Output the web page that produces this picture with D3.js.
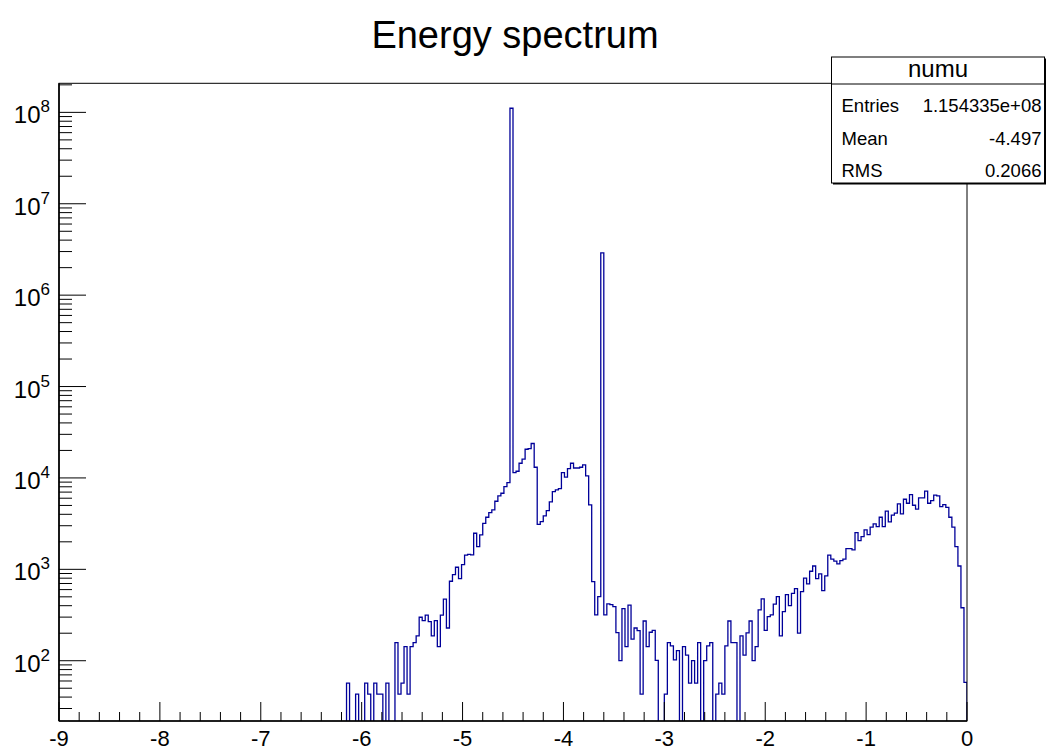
<!DOCTYPE html>
<html>
<head>
<meta charset="utf-8">
<script src="https://cdn.jsdelivr.net/npm/d3@7/dist/d3.min.js"></script>
<style>
  body { margin: 0; background: #fff; }
  text { font-family: "Liberation Sans", Arial, Helvetica, sans-serif; fill: #000; }
</style>
</head>
<body>
<div id="chart"></div>
<script>
// histogram setup
var titleText = "Energy spectrum";
var histName = "numu";
var xRange = [-9, 0];
var nBins = 300;
var firstFilledBin = 93;   // everything below this bin is empty

// bin contents (bins 93 .. 299)
var binCounts = [
  0, 0, 57, 0, 0, 43, 0, 0, 57, 43,
  0, 57, 43, 43, 0, 57, 0, 0, 158, 43,
  57, 143, 43, 143, 158, 187, 299, 275, 315, 268,
  187, 275, 143, 315, 471, 228, 741, 875, 1054, 791,
  1126, 1427, 1461, 1440, 2483, 1770, 2378, 3190, 3715, 4170,
  4466, 5558, 6353, 6800, 8040, 8890, 1.11e8, 11430, 11840, 14480,
  16030, 20600, 20900, 23800, 13090, 3100, 3327, 3839, 4385, 5458,
  7077, 7390, 7640, 11430, 10190, 12650, 14480, 12850, 12850, 13090,
  13870, 10520, 5070, 734, 317, 503, 2.9e6, 317, 418, 410,
  391, 203, 100, 371, 143, 405, 172, 228, 213, 43,
  272, 143, 205, 215, 101, 0, 0, 43, 158, 145,
  102, 129, 0, 143, 115, 57, 100, 57, 158, 0,
  100, 145, 158, 0, 43, 57, 43, 145, 272, 158,
  158, 0, 187, 115, 202, 272, 100, 143, 360, 475,
  215, 304, 318, 416, 503, 187, 344, 530, 400, 547,
  615, 200, 570, 800, 692, 953, 1088, 791, 891, 585,
  847, 1427, 1290, 1227, 1146, 1245, 1290, 1686, 1686, 1630,
  2523, 2061, 2280, 2699, 2399, 2891, 3141, 2933, 3715, 2933,
  4325, 3304, 3909, 4115, 5200, 4037, 5848, 5284, 6566, 5023,
  4548, 6040, 6040, 7160, 5284, 5650, 6470, 6350, 4855, 5107,
  4775, 3715, 2891, 1771, 1088, 380, 58
];

var xTickValues = d3.range(-9, 1);
var yTickExponents = [2, 3, 4, 5, 6, 7, 8];
var yRange = [21.9, 2.08e8];
var statNames = ["Entries", "Mean", "RMS"];
var statValues = ["1.154335e+08", "-4.497", "0.2066"];

// frame geometry
var width = 1051, height = 751;
var frame = {left: 59, right: 967, top: 83.3, bottom: 721};

var svg = d3.select("#chart")
  .append("svg")
    .attr("width", width)
    .attr("height", height);

var x = d3.scaleLinear().domain(xRange).range([frame.left, frame.right]);
var y = d3.scaleLog().domain(yRange).range([frame.bottom, frame.top]);

// full bin list with empty bins in front
var counts = d3.range(nBins).map(function(i) {
  return i < firstFilledBin ? 0 : binCounts[i - firstFilledBin];
});
var binW = (xRange[1] - xRange[0]) / nBins;

svg.append("clipPath").attr("id", "frameClip")
  .append("rect")
    .attr("x", frame.left)
    .attr("y", frame.top)
    .attr("width", frame.right - frame.left)
    .attr("height", frame.bottom - frame.top);

// step outline like ROOT draws it
function yOf(c) { return c > 0 ? y(c) : frame.bottom + 6; }
var pts = [[x(xRange[0]), frame.bottom + 6]];
counts.forEach(function(c, i) {
  var x0 = xRange[0] + i * binW, x1 = x0 + binW;
  pts.push([x(x0), yOf(c)]);
  pts.push([x(x1), yOf(c)]);
});
pts.push([x(xRange[1]), frame.bottom + 6]);

svg.append("path")
  .attr("clip-path", "url(#frameClip)")
  .attr("d", d3.line()(pts))
  .attr("fill", "none")
  .attr("stroke", "#000099")
  .attr("stroke-width", 1.3);

// frame
svg.append("rect")
  .attr("x", frame.left)
  .attr("y", frame.top)
  .attr("width", frame.right - frame.left)
  .attr("height", frame.bottom - frame.top)
  .attr("fill", "none")
  .attr("stroke", "#000")
  .attr("stroke-width", 1);

// x axis: ticks pointing up into the frame
var xAxis = svg.append("g");
xAxis.append("line")
  .attr("x1", frame.left).attr("x2", frame.right)
  .attr("y1", frame.bottom).attr("y2", frame.bottom)
  .attr("stroke", "#000").attr("stroke-width", 1.6);
var xMinor = d3.range(0, 46).map(function(i) { return xRange[0] + i * 0.2; });
xAxis.selectAll(".xminor")
  .data(xMinor)
  .enter().append("line")
    .attr("x1", function(d) { return x(d); })
    .attr("x2", function(d) { return x(d); })
    .attr("y1", frame.bottom)
    .attr("y2", function(d) { return Math.abs(d - Math.round(d)) < 1e-6 ? frame.bottom - 19 : frame.bottom - 9; })
    .attr("stroke", "#000");
xAxis.selectAll(".xlab")
  .data(xTickValues)
  .enter().append("text")
    .attr("x", function(d) { return x(d); })
    .attr("y", 746)
    .attr("text-anchor", "middle")
    .attr("font-size", 22)
    .text(function(d) { return d; });

// y axis: log decades with minor ticks
var yAxis = svg.append("g");
yAxis.append("line")
  .attr("x1", frame.left).attr("x2", frame.left)
  .attr("y1", frame.top).attr("y2", frame.bottom)
  .attr("stroke", "#000").attr("stroke-width", 1.6);
var yMinor = [];
d3.range(1, 9).forEach(function(e) {
  d3.range(1, 10).forEach(function(m) {
    var v = m * Math.pow(10, e);
    if (v >= yRange[0] && v <= yRange[1]) yMinor.push({v: v, major: m == 1});
  });
});
yAxis.selectAll(".ytick")
  .data(yMinor)
  .enter().append("line")
    .attr("x1", frame.left)
    .attr("x2", function(d) { return d.major ? frame.left + 27 : frame.left + 13; })
    .attr("y1", function(d) { return y(d.v); })
    .attr("y2", function(d) { return y(d.v); })
    .attr("stroke", "#000");
var ylab = yAxis.selectAll(".ylab")
  .data(yTickExponents)
  .enter().append("text")
    .attr("x", 50)
    .attr("y", function(d) { return y(Math.pow(10, d)) + 11; })
    .attr("text-anchor", "end")
    .attr("font-size", 24);
ylab.append("tspan").text("10");
ylab.append("tspan")
  .attr("dy", -11)
  .attr("font-size", 17)
  .text(function(d) { return d; });

// title
svg.append("text")
  .attr("x", 515)
  .attr("y", 48)
  .attr("text-anchor", "middle")
  .attr("font-size", 38)
  .text(titleText);

// stats box
var box = {x: 831.5, y: 57, w: 213, h: 126, head: 27};
var stats = svg.append("g");
stats.append("rect")
  .attr("x", box.x + 1.5).attr("y", box.y + 1.5)
  .attr("width", box.w).attr("height", box.h)
  .attr("fill", "#000");
stats.append("rect")
  .attr("x", box.x).attr("y", box.y)
  .attr("width", box.w).attr("height", box.h)
  .attr("fill", "#fff")
  .attr("stroke", "#000");
stats.append("line")
  .attr("x1", box.x).attr("x2", box.x + box.w)
  .attr("y1", box.y + box.head).attr("y2", box.y + box.head)
  .attr("stroke", "#000");
stats.append("text")
  .attr("x", box.x + box.w / 2)
  .attr("y", box.y + 20)
  .attr("text-anchor", "middle")
  .attr("font-size", 24)
  .text(histName);
var rowBase = [112, 145, 177];
statNames.forEach(function(n, i) {
  stats.append("text")
    .attr("x", box.x + 10).attr("y", rowBase[i])
    .attr("font-size", 18.5)
    .text(n);
  stats.append("text")
    .attr("x", box.x + box.w - 3).attr("y", rowBase[i])
    .attr("text-anchor", "end")
    .attr("font-size", 18.5)
    .text(statValues[i]);
});
</script>
</body>
</html>
